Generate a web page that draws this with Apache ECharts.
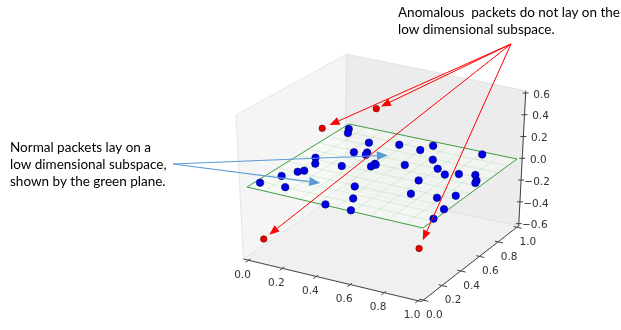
<!DOCTYPE html>
<html><head><meta charset="utf-8">
<script src="https://cdn.jsdelivr.net/npm/echarts@6/dist/echarts.min.js"></script>
<style>html,body{margin:0;padding:0;background:#fff}#c{width:621px;height:330px}</style>
</head><body><div id="c"></div>
<script>
// ---------------- data (3D coordinates) ----------------
const normalX = [0.035,0.06,0.22,0.37,0.50,0.53,0.81,0.09,0.22,0.28,0.29,0.13,0.26,0.39,0.40,0.39,0.53,0.62,0.70,0.77,0.83,0.91,0.95,0.96,0.69,0.07,0.11,0.13,0.025,0.16,0.45,0.74,0.88,0.95,0.52,0.44,0.585,0.98,0.99];
const normalY = [0.94,0.89,0.83,0.88,0.87,0.95,0.97,0.52,0.68,0.71,0.68,0.45,0.49,0.60,0.59,0.56,0.66,0.79,0.70,0.65,0.69,0.72,0.66,0.63,0.52,0.22,0.31,0.34,0.085,0.10,0.29,0.35,0.37,0.44,0.15,0.01,0.01,0.26,0.13];
const normalZ = [0,0,0,0,0,0,0,0,0,0,0,0,0,0,0,0,0,0,0,0,0,0,0,0,0,0,0,0,0,0,0,0,0,0,0,0,0,0,0];
const anomX = [0.19,0.36,0.06,0.84];
const anomY = [0.42,0.66,0.04,0.27];
const anomZ = [0.35,0.45,-0.45,-0.40];
const xTicks = [0.0,0.2,0.4,0.6,0.8,1.0];
const yTicks = [0.0,0.2,0.4,0.6,0.8,1.0];
const zTicks = [-0.6,-0.4,-0.2,0.0,0.2,0.4,0.6];
const xLim = [-0.03,1.02], yLim = [-0.02,1.02], zLim = [-0.62,0.62];
const planeZ = 0, planeDiv = 10;
// annotation targets on the plane (3D)
const blueTargets = [[0.39,0.73,0],[0.28,0.24,0]];
const redGaps = [8,5,7,9];
const normalText = 'Normal packets lay on a\nlow dimensional subspace,\nshown by the green plane.';
const anomText = 'Anomalous  packets do not lay on the\nlow dimensional subspace.';

// ---------------- view (projection calibration) ----------------
const G = [[247,187],[423,228],[517,159],[349,124]]; // (0,0),(1,0),(1,1),(0,1) at z=0
const V = [[-5.6,-116],[5,-115],[5.6,-109],[1,-109]]; // screen shift per unit z
function proj(x,y,z){
  const w=[(1-x)*(1-y), x*(1-y), x*y, (1-x)*y];
  let gx=0,gy=0,vx=0,vy=0;
  for(let i=0;i<4;i++){gx+=w[i]*G[i][0];gy+=w[i]*G[i][1];vx+=w[i]*V[i][0];vy+=w[i]*V[i][1];}
  return [gx+z*vx, gy+z*vy];
}

const bg = [], fg = [];
function poly(list, pts3, style){ list.push({kind:'polygon', pts:pts3.map(p=>proj(p[0],p[1],p[2])), style}); }
function line3(list, pts3, style){ list.push({kind:'polyline', pts:pts3.map(p=>proj(p[0],p[1],p[2])), style}); }
function line2(list, pts2, style){ list.push({kind:'polyline', pts:pts2, style}); }
function text2(list, pt, str, style){ list.push({kind:'text', pts:[pt], text:str, style}); }

const [x0,x1]=xLim,[y0,y1]=yLim,[z0,z1]=zLim;
// panes
poly(bg, [[x0,y0,z0],[x1,y0,z0],[x1,y1,z0],[x0,y1,z0]], {fill:'#f0f0f0', stroke:'#e8e8e8', lineWidth:1});
poly(bg, [[x0,y0,z0],[x0,y1,z0],[x0,y1,z1],[x0,y0,z1]], {fill:'#f5f5f5', stroke:'#e6e6e6', lineWidth:1});
poly(bg, [[x0,y1,z0],[x1,y1,z0],[x1,y1,z1],[x0,y1,z1]], {fill:'#ececec', stroke:'#e2e2e2', lineWidth:1});
// plane
poly(bg, [[0,0,planeZ],[1,0,planeZ],[1,1,planeZ],[0,1,planeZ]], {fill:'rgba(248,252,248,0.55)'});
for(let i=1;i<planeDiv;i++){
  const t=i/planeDiv;
  line3(bg, [[t,0,planeZ],[t,1,planeZ]], {stroke:'rgba(60,160,60,0.18)', lineWidth:0.8, fill:null});
  line3(bg, [[0,t,planeZ],[1,t,planeZ]], {stroke:'rgba(60,160,60,0.18)', lineWidth:0.8, fill:null});
}
line3(bg, [[0,0,planeZ],[1,0,planeZ],[1,1,planeZ],[0,1,planeZ],[0,0,planeZ]], {stroke:'#3e9e3e', lineWidth:1, fill:null});
// axes
const axStyle={stroke:'#444', lineWidth:1, fill:null};
line3(bg, [[x0,y0,z0],[x1,y0,z0]], axStyle);
line3(bg, [[x1,y0,z0],[x1,y1,z0]], axStyle);
line3(bg, [[x1,y1,z0],[x1,y1,z1]], axStyle);
const lblStyle={fill:'#333', fontSize:10.5, fontFamily:'DejaVu Sans', align:'center', verticalAlign:'middle'};
const fmt=v=>(v<0?'\u2212':'')+Math.abs(v).toFixed(1);
xTicks.forEach(t=>{
  line3(bg, [[t,y0+0.02,z0],[t,y0-0.03,z0]], axStyle);
  const p=proj(t,y0,z0); text2(bg, [p[0]-6,p[1]+15], fmt(t), lblStyle);
});
yTicks.forEach(t=>{
  line3(bg, [[x1-0.02,t,z0],[x1+0.03,t,z0]], axStyle);
  const p=proj(x1,t,z0); text2(bg, [p[0]+11,p[1]+15], fmt(t), lblStyle);
});
zTicks.forEach(t=>{
  const p=proj(x1,y1,t);
  line2(bg, [[p[0]-3,p[1]],[p[0]+3,p[1]]], axStyle);
  text2(bg, [p[0]+16,p[1]+2], fmt(t), lblStyle);
});

// annotations
function arrow(list, from, to, color, w, hl, hw){
  const dx=to[0]-from[0], dy=to[1]-from[1], L=Math.hypot(dx,dy), ux=dx/L, uy=dy/L;
  const base=[to[0]-ux*hl, to[1]-uy*hl];
  line2(list, [from, base], {stroke:color, lineWidth:w, fill:null});
  list.push({kind:'polygon', pts:[to,[base[0]-uy*hw/2, base[1]+ux*hw/2],[base[0]+uy*hw/2, base[1]-ux*hw/2]], style:{fill:color}});
}
const redSrc=[511,44];
anomX.forEach((x,i)=>{
  const p=proj(x,anomY[i],anomZ[i]);
  const dx=redSrc[0]-p[0], dy=redSrc[1]-p[1], L=Math.hypot(dx,dy);
  arrow(fg, redSrc, [p[0]+dx/L*redGaps[i], p[1]+dy/L*redGaps[i]], '#ff0000', 1, 10, 8);
});
const blueSrc=[173,164];
blueTargets.forEach(b=>{ arrow(fg, blueSrc, proj(b[0],b[1],b[2]), '#5b9bd5', 1.2, 11, 9); });
const annStyle={fill:'#000', fontSize:13.5, fontFamily:'Lato', align:'left', verticalAlign:'top', lineHeight:17};
text2(fg, [10,139], normalText, annStyle);
text2(fg, [398,4], anomText, annStyle);

function render(list){
  return function(params, api){
    const s=list[params.dataIndex];
    const pts=s.pts.map(p=>api.coord(p));
    if(s.kind==='text') return {type:'text', x:pts[0][0], y:pts[0][1], silent:true, style:Object.assign({text:s.text}, s.style)};
    return {type:s.kind, silent:true, shape:{points:pts}, style:s.style};
  };
}

const chart = echarts.init(document.getElementById('c'), null, {renderer:'canvas'});
chart.setOption({
  animation:false,
  backgroundColor:'#ffffff',
  grid:{left:0,right:0,top:0,bottom:0},
  xAxis:{type:'value', min:0, max:621, show:false},
  yAxis:{type:'value', min:0, max:330, inverse:true, show:false},
  series:[
    {type:'custom', z:1, renderItem:render(bg), data:bg.map(()=>[0,0]), clip:false},
    {type:'scatter', z:3, symbolSize:7.5, itemStyle:{color:'#0000e6', borderColor:'#00007a', borderWidth:0.6, opacity:1},
     data:normalX.map((x,i)=>proj(x,normalY[i],normalZ[i]))},
    {type:'scatter', z:3, symbolSize:6.5, itemStyle:{color:'#e60000', borderColor:'#7a0000', borderWidth:0.6, opacity:1},
     data:anomX.map((x,i)=>proj(x,anomY[i],anomZ[i]))},
    {type:'custom', z:5, renderItem:render(fg), data:fg.map(()=>[0,0]), clip:false}
  ]
});
</script></body></html>
